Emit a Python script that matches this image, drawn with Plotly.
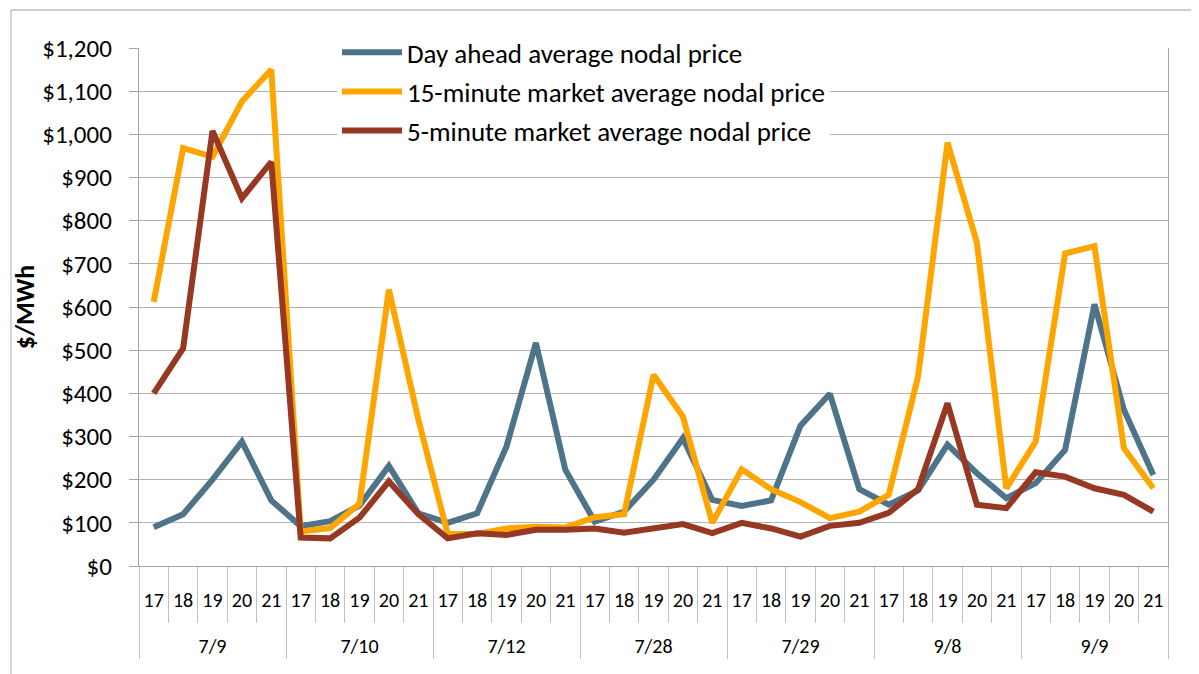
import plotly.graph_objects as go

dates = ["7/9", "7/10", "7/12", "7/28", "7/29", "9/8", "9/9"]
hours = ["17", "18", "19", "20", "21"]

day_ahead = [90, 120, 200, 288, 152,
             92, 104, 140, 232, 122,
             100, 122, 277, 517, 223,
             103, 126, 200, 296, 153,
             139, 152, 325, 399, 178,
             142, 175, 281, 215, 157,
             192, 269, 606, 362, 211]
fifteen_min = [612, 968, 948, 1076, 1150,
               80, 88, 144, 640, 340,
               74, 74, 87, 91, 89,
               113, 120, 443, 346, 100,
               224, 178, 148, 111, 126,
               165, 439, 981, 749, 180,
               288, 724, 741, 273, 180]
five_min = [400, 504, 1008, 852, 936,
            66, 64, 112, 196, 120,
            64, 76, 72, 84, 84,
            87, 77, 87, 97, 76,
            100, 87, 68, 93, 100,
            123, 178, 377, 142, 134,
            217, 207, 180, 165, 126]

series_names = ["Day ahead average nodal price",
                "15-minute market average nodal price",
                "5-minute market average nodal price"]
series_colors = ["#4E7489", "#FFA500", "#963822"]

LBL = '<span style="font-size:20px">{}</span>'
x_outer = ["<br>" + LBL.format(d) for d in dates for _ in hours]
x_inner = [LBL.format(h) for _ in dates for h in hours]

FONT = "Carlito, Lato, sans-serif"

fig = go.Figure()
for i, (name, vals, col) in enumerate(zip(series_names, [day_ahead, fifteen_min, five_min], series_colors)):
    fig.add_trace(go.Scatter(
        x=[x_outer, x_inner], y=vals, mode="lines", name=name,
        legendgroup=f"g{i}",
        line=dict(color=col, width=6, shape="linear"),
    ))

# page body has an 8px margin, so the figure is shifted by 8px
fig.update_layout(
    width=1191, height=666,
    margin=dict(l=131, r=31, t=40, b=108),
    paper_bgcolor="white", plot_bgcolor="white",
    font=dict(family=FONT, color="black", size=20),
    showlegend=True,
    legend=dict(
        x=(337 - 139) / 1029, y=1.038, xanchor="left", yanchor="top",
        bgcolor="white", borderwidth=0,
        font=dict(family=FONT, size=27, color="black"),
        tracegroupgap=1, itemwidth=60,
    ),
    xaxis=dict(
        type="multicategory",
        range=[-0.5, len(dates) * len(hours) - 0.5],
        automargin=False,
        tickangle=0,
        showgrid=False,
        showline=True, linecolor="#A6A6A6", linewidth=1.3,
        ticks="outside", tickson="boundaries", ticklen=56,
        tickcolor="#BFBFBF", tickwidth=1.3,
        showdividers=True, dividercolor="#BFBFBF", dividerwidth=1.3,
        ticklabelstandoff=11,
        tickfont=dict(family=FONT, size=24, color="black"),
    ),
    yaxis=dict(
        range=[0, 1200], dtick=100, tick0=0,
        tickprefix="$", tickformat=",",
        automargin=False,
        showgrid=True, gridcolor="#B3B3B3", gridwidth=1.3,
        showline=True, linecolor="#A6A6A6", linewidth=1.3, mirror=True,
        ticks="outside", ticklen=9, tickcolor="#A6A6A6", tickwidth=1.3,
        ticklabelstandoff=12,
        tickfont=dict(family=FONT, size=25, color="black"),
        zeroline=False,
        title=dict(text="<b>$/MWh</b>", font=dict(family=FONT, size=26, color="black"), standoff=0),
    ),
    shapes=[dict(
        type="rect", xref="paper", yref="paper",
        x0=(11 - 139) / 1029, x1=2.0,
        y0=-2.0, y1=1 + (48 - 10) / 518,
        line=dict(color="#BFBFBF", width=1.3), fillcolor="rgba(0,0,0,0)",
        layer="below",
    )],
)

fig.write_html("out.html")
